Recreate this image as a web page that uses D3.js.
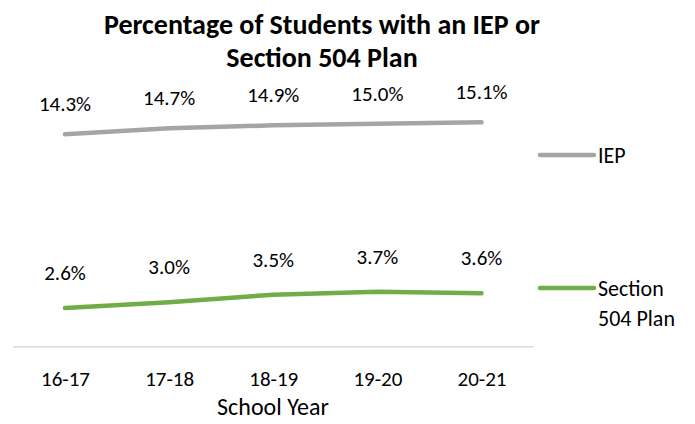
<!DOCTYPE html>
<html>
<head>
<meta charset="utf-8">
<script src="https://cdn.jsdelivr.net/npm/d3@7"></script>
<style>
  html, body { margin: 0; padding: 0; background: #fff; }
  svg { display: block; font-family: Carlito, Calibri, Lato, sans-serif; }
</style>
</head>
<body>
<svg id="chart" width="695" height="424"></svg>
<script>
// School years on the x axis
const years = ["16-17", "17-18", "18-19", "19-20", "20-21"];
// Percentage of students with an IEP
const iepValues = [14.3, 14.7, 14.9, 15.0, 15.1];
// Percentage of students with a Section 504 Plan
const sec504Values = [2.6, 3.0, 3.5, 3.7, 3.6];
const seriesNames = ["IEP", "Section 504 Plan"];
const seriesColors = ["#A5A5A5", "#70AD47"];
const titleLines = ["Percentage of Students with an IEP or", "Section 504 Plan"];
const xAxisTitle = "School Year";

const svg = d3.select("#chart");

const x = d3.scalePoint()
  .domain(years)
  .range([65, 481.5]);
const step = x.step();

const y = d3.scaleLinear()
  .domain([0, 16])
  .range([346.7, 109]);

// Title
svg.append("text")
  .attr("font-size", 28)
  .attr("font-weight", "bold")
  .attr("text-anchor", "middle")
  .attr("fill", "#000")
  .selectAll("tspan")
  .data(titleLines)
  .join("tspan")
  .attr("x", 322)
  .attr("y", (d, i) => 34 + i * 33)
  .text(d => d);

// Category axis line
svg.append("line")
  .attr("x1", x(years[0]) - step / 2)
  .attr("x2", x(years[years.length - 1]) + step / 2)
  .attr("y1", y(0))
  .attr("y2", y(0))
  .attr("stroke", "#D9D9D9")
  .attr("stroke-width", 1.5);

// Category labels
const xAxis = d3.axisBottom(x).tickSize(0).tickPadding(0);
const gx = svg.append("g")
  .attr("transform", `translate(0,${y(0)})`)
  .call(xAxis);
gx.select(".domain").remove();
gx.selectAll("text")
  .attr("font-family", "Carlito, Calibri, Lato, sans-serif")
  .attr("font-size", 21)
  .attr("fill", "#000")
  .attr("dy", null)
  .attr("y", 39);

svg.append("text")
  .attr("x", 273)
  .attr("y", 415)
  .attr("text-anchor", "middle")
  .attr("font-size", 24)
  .attr("fill", "#000")
  .text(xAxisTitle);

const series = [iepValues, sec504Values];
const line = d3.line()
  .x((d, i) => x(years[i]))
  .y(d => y(d));

series.forEach((vals, si) => {
  svg.append("path")
    .datum(vals)
    .attr("d", line)
    .attr("fill", "none")
    .attr("stroke", seriesColors[si])
    .attr("stroke-width", 4.5)
    .attr("stroke-linecap", "round")
    .attr("stroke-linejoin", "round");

  svg.append("g")
    .selectAll("text")
    .data(vals)
    .join("text")
    .attr("x", (d, i) => x(years[i]))
    .attr("y", d => y(d) - (si === 0 ? 23 : 28))
    .attr("text-anchor", "middle")
    .attr("font-size", 21)
    .attr("fill", "#000")
    .text(d => d.toFixed(1) + "%");
});

// Legend
const legendItems = [
  { y: 155, lines: ["IEP"] },
  { y: 288, lines: ["Section", "504 Plan"] }
];
legendItems.forEach((item, i) => {
  svg.append("line")
    .attr("x1", 540)
    .attr("x2", 594)
    .attr("y1", item.y)
    .attr("y2", item.y)
    .attr("stroke", seriesColors[i])
    .attr("stroke-width", 4.5)
    .attr("stroke-linecap", "round");
  svg.append("text")
    .attr("font-size", 22)
    .attr("fill", "#000")
    .selectAll("tspan")
    .data(item.lines)
    .join("tspan")
    .attr("x", 598)
    .attr("y", (d, j) => item.y + 8 + j * 30)
    .text(d => d);
});
</script>
</body>
</html>
